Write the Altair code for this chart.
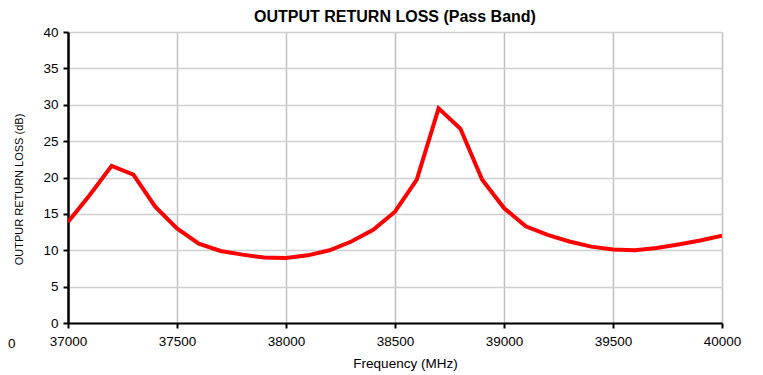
import altair as alt
import pandas as pd

freq = [37000, 37100, 37200, 37300, 37400, 37500, 37600, 37700, 37800, 37900,
        38000, 38100, 38200, 38300, 38400, 38500, 38600, 38700, 38800, 38900,
        39000, 39100, 39200, 39300, 39400, 39500, 39600, 39700, 39800, 39900, 40000]
loss = [13.9, 17.6, 21.6, 20.4, 16.0, 13.0, 10.9, 9.9, 9.4, 9.0,
        8.95, 9.3, 10.0, 11.2, 12.8, 15.3, 19.7, 29.5, 26.7, 19.7,
        15.8, 13.3, 12.1, 11.2, 10.5, 10.1, 10.0, 10.3, 10.8, 11.35, 12.0]

x_ticks = [37000, 37500, 38000, 38500, 39000, 39500, 40000]
y_ticks = [0, 5, 10, 15, 20, 25, 30, 35, 40]

df = pd.DataFrame({"freq": freq, "loss": loss})
FONT = "Liberation Sans"

line = alt.Chart(df).mark_line(color="#ff0000", strokeWidth=4, clip=True).encode(
    x=alt.X("freq:Q", scale=alt.Scale(domain=[37000, 40000], nice=False),
            axis=alt.Axis(values=x_ticks, title="Frequency (MHz)", format="d",
                          grid=True, gridColor="#c0c0c0", gridWidth=1.5,
                          domainColor="#000000", domainWidth=2,
                          tickColor="#000000", tickWidth=2, tickSize=5,
                          labelFont=FONT, labelFontSize=13.5, labelColor="#000000",
                          labelPadding=6, labelFlush=False,
                          titleFont=FONT, titleFontSize=13.5, titleFontWeight="normal",
                          titleColor="#000000", titlePadding=9, titleX=337)),
    y=alt.Y("loss:Q", scale=alt.Scale(domain=[0, 40], nice=False),
            axis=alt.Axis(values=y_ticks, title="OUTPUR RETURN LOSS (dB)",
                          grid=True, gridColor="#cfcfcf", gridWidth=1.5,
                          domainColor="#000000", domainWidth=2.5,
                          tickColor="#000000", tickWidth=2, tickSize=5,
                          labelFont=FONT, labelFontSize=13.5, labelColor="#000000",
                          labelPadding=5,
                          titleFont=FONT, titleFontSize=11, titleFontWeight="normal",
                          titleColor="#000000", titlePadding=18, titleY=157)),
)

stray = alt.Chart(pd.DataFrame({"t": ["0"]})).mark_text(
    font=FONT, fontSize=13.5, color="#000000", clip=False, align="left", baseline="top"
).encode(text="t:N", x=alt.value(-60), y=alt.value(305))

chart = alt.layer(line, stray).properties(
    width=654, height=291,
    padding={"left": 60, "top": 24, "right": 25, "bottom": 56},
    autosize="none",
    title=alt.TitleParams("OUTPUT RETURN LOSS (Pass Band)", font=FONT, fontSize=16,
                          fontWeight="bold", color="#000000", anchor="middle", offset=0),
).configure_view(stroke="#000000", strokeWidth=2).configure(background="#ffffff")

chart.save("out.html", embed_options={"renderer": "svg", "actions": False})
